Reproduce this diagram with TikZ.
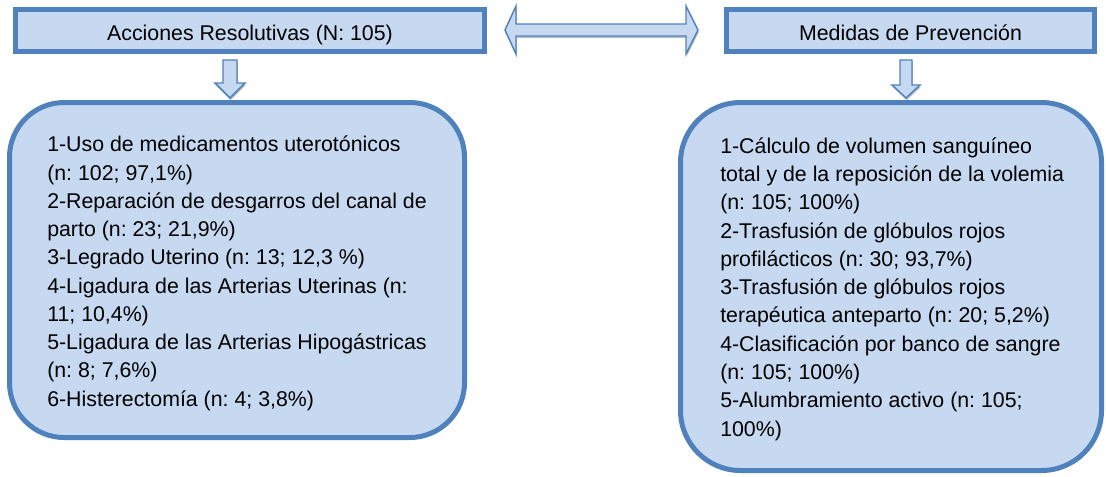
\documentclass[tikz,border=0pt]{standalone}
\usepackage{fontspec}
\setmainfont{Liberation Sans}
\usetikzlibrary{shadows}
\frenchspacing
\definecolor{bordeazul}{HTML}{4F81BD}
\definecolor{rellenoazul}{HTML}{C6D9F1}
\tikzset{
  topbox/.style={draw=bordeazul, fill=rellenoazul, line width=3.75pt, inner sep=0pt,
    font=\fontsize{16}{21.2}\selectfont, text height=15pt, text depth=0pt},
  roundbox/.style={draw=bordeazul, fill=rellenoazul, line width=3.75pt, inner sep=0pt},
  listtext/.style={align=left, inner sep=0pt, anchor=base west,
    font=\fontsize{16}{21.2}\selectfont},
  blockarrow/.style={draw=bordeazul, fill=rellenoazul, line width=1.1pt, line join=miter,
    drop shadow={shadow xshift=0.6pt, shadow yshift=-1.6pt, opacity=0.25, fill=black}}
}
\begin{document}
\begin{tikzpicture}[x=0.75pt, y=-0.75pt]
\useasboundingbox (0,0) rectangle (1106,476);

% top boxes
\node[topbox, minimum width=351.75pt, minimum height=31.1pt] (acc) at (250,30.3) {Acciones Resolutivas (N: 105)};
\node[topbox, minimum width=276pt, minimum height=31.5pt] (med) at (910.5,30.5) {Medidas de Prevención};

% rounded boxes
\node[roundbox, rounded corners=41pt, minimum width=341.25pt, minimum height=251.25pt] (lbox) at (237,270) {};
\node[roundbox, rounded corners=45pt, minimum width=315.75pt, minimum height=276pt] (rbox) at (891,286.5) {};

% texts in rounded boxes (base anchor = baseline of the last line)
\node[listtext] (ltext) at (47,406.2) {1-Uso de medicamentos uterotónicos\\
(n: 102; 97,1\%)\\
2-Reparación de desgarros del canal de\\
parto (n: 23; 21,9\%)\\
3-Legrado Uterino (n: 13; 12,3 \%)\\
4-Ligadura de las Arterias Uterinas (n:\\
11; 10,4\%)\\
5-Ligadura de las Arterias Hipogástricas\\
(n: 8; 7,6\%)\\
6-Histerectomía (n: 4; 3,8\%)};

\node[listtext] (rtext) at (720,436) {1-Cálculo de volumen sanguíneo\\
total y de la reposición de la volemia\\
(n: 105; 100\%)\\
2-Trasfusión de glóbulos rojos\\
profilácticos (n: 30; 93,7\%)\\
3-Trasfusión de glóbulos rojos\\
terapéutica anteparto (n: 20; 5,2\%)\\
4-Clasificación por banco de sangre\\
(n: 105; 100\%)\\
5-Alumbramiento activo (n: 105;\\
100\%)};

% block arrows
\draw[blockarrow] (223,60) -- (237,60) -- (237,83) -- (245,83) -- (230,98) -- (215,83) -- (223,83) -- cycle;
\draw[blockarrow] (900,60) -- (912,60) -- (912,85) -- (920,85) -- (906,98) -- (892,85) -- (900,85) -- cycle;
\draw[blockarrow] (505,30) -- (516,6) -- (516,24) -- (686,24) -- (686,6) -- (698,30) -- (686,54) -- (686,36) -- (516,36) -- (516,54) -- cycle;
\end{tikzpicture}
\end{document}
